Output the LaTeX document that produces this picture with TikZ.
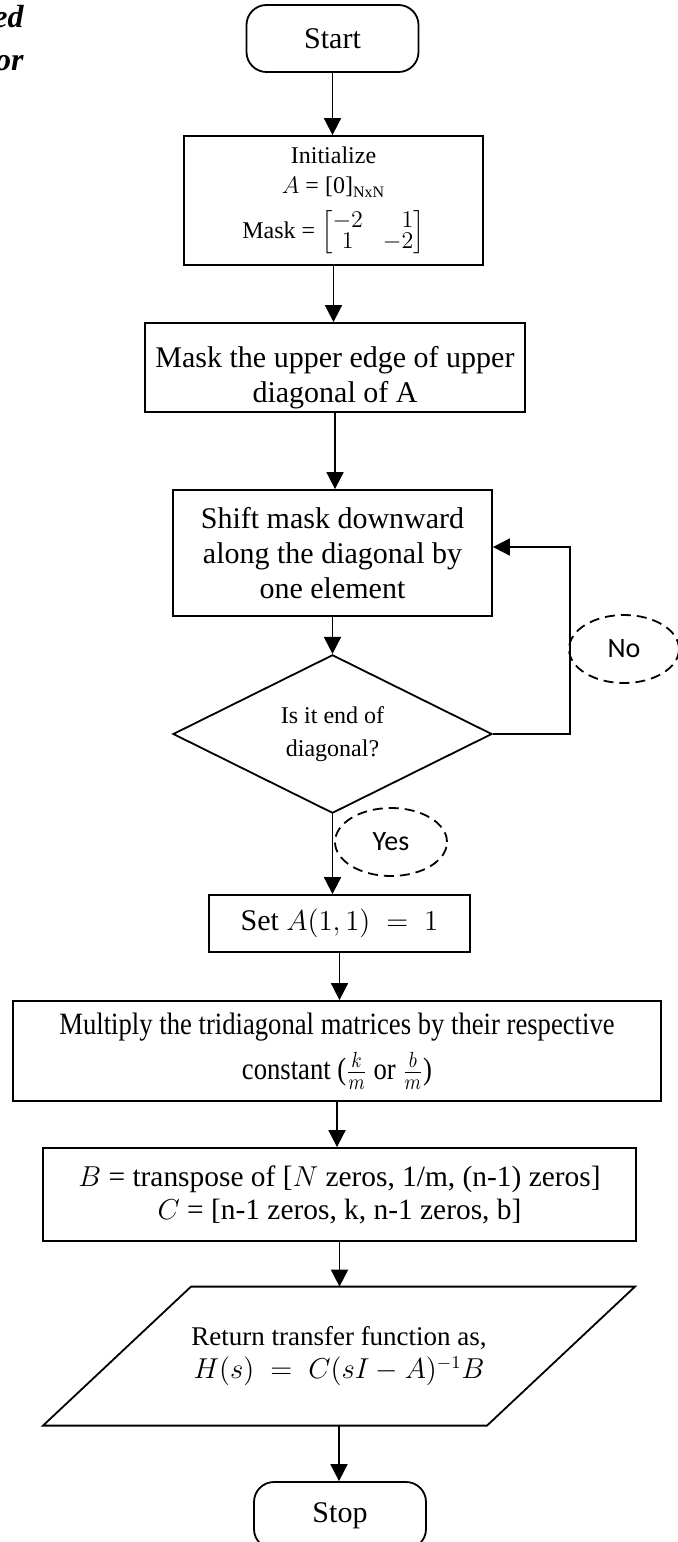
\documentclass[tikz,border=0pt]{standalone}
\usepackage{amsmath}
\usepackage{graphicx}
\usepackage{fontspec}
\setmainfont{Liberation Serif}
\newfontfamily\yesnofont{Carlito}
\usetikzlibrary{shapes.geometric,arrows.meta}

\begin{document}
\begin{tikzpicture}[x=0.5pt,y=-0.5pt,
    box/.style={draw,line width=0.9pt,align=center,inner sep=0pt},
    term/.style={box,rounded corners=10pt,minimum width=86pt,minimum height=33.5pt,
      font=\fontsize{15}{18}\selectfont},
    tag/.style={draw,ellipse,line width=0.9pt,dash pattern=on 5pt off 3pt,inner sep=0pt,
      font=\yesnofont\fontsize{14}{16}\selectfont},
    cut/.style={anchor=base east,inner sep=0pt,font=\bfseries\itshape\fontsize{16}{18}\selectfont},
    arr/.style={line width=0.9pt,-{Triangle[length=8.5pt,width=8.5pt]}}]
  \useasboundingbox (0,0) rectangle (677,1542);
  % caption left over at the edge
  \node[cut] (capa) at (24,27) {ed};
  \node[cut] (capb) at (24,70) {or};
  % steps
  \node[term] (start) at (332.5,38.5) {Start};
  \node[box,minimum width=149.5pt,minimum height=64.5pt,font=\fontsize{12}{15}\selectfont]
    (init) at (333.5,200.5)
    {Initialize\\$A$ = [0]\textsubscript{NxN}\\[6pt]
     Mask = $\renewcommand{\arraystretch}{0.62}\begin{bmatrix}-2&\phantom{-}1\\1&-2\end{bmatrix}$};
  \node[box,minimum width=190pt,minimum height=44.5pt,
    path picture={\node[align=center,font=\fontsize{15}{17.5}\selectfont]
      at ([yshift=-5pt]path picture bounding box.center)
      {Mask the upper edge of upper\\diagonal of A};}]
    (mask) at (335,367.5) {};
  \node[box,minimum width=159.5pt,minimum height=63pt,font=\fontsize{15}{17.5}\selectfont]
    (shift) at (332.5,553) {Shift mask downward\\along the diagonal by\\one element};
  \node[draw,diamond,line width=0.9pt,minimum width=159.5pt,minimum height=74pt,inner sep=0pt,
    align=center,font=\fontsize{12}{16.5}\selectfont]
    (dec) at (332.5,734) {Is it end of\\diagonal?};
  \node[tag,minimum width=55pt,minimum height=34pt] (no) at (624,649) {No};
  \node[tag,minimum width=56pt,minimum height=34pt] (yes) at (391,842) {Yes};
  \node[box,minimum width=130.5pt,minimum height=28.5pt,font=\fontsize{15}{18}\selectfont]
    (set) at (339.5,923.5) {Set $A(1,1)\;=\;1$};
  \node[box,minimum width=324pt,minimum height=50pt,font=\fontsize{15.5}{22.5}\selectfont]
    (mult) at (337,1051)
    {\scalebox{0.86}[1]{Multiply the tridiagonal matrices by their respective}\\
     \scalebox{0.86}[1]{constant ($\frac{k}{m}$ or $\frac{b}{m}$)}};
  \node[box,minimum width=296.5pt,minimum height=46.5pt,font=\fontsize{14.7}{16.5}\selectfont]
    (bc) at (339.5,1194.5)
    {$B$ = transpose of [$N$ zeros, 1/m, (n-1) zeros]\\$C$ = [n-1 zeros, k, n-1 zeros, b]};
  \node[minimum width=222pt,minimum height=69.5pt,inner sep=0pt,align=center,
    font=\fontsize{13.5}{16.5}\selectfont]
    (ret) at (339,1356.5) {Return transfer function as,\\$H(s)\;=\;C(sI-A)^{-1}B$};
  \draw[line width=0.9pt] (ret.north) ++(-148,0) -- ++(444,0) -- ++(-148,139) -- ++(-444,0) -- cycle;
  \node[term] (stop) at (340,1515.5) {Stop};
  % arrows
  \draw[arr] (start.south) -- (start.south |- init.north);
  \draw[arr] (init.south) -- (init.south |- mask.north);
  \draw[arr] (mask.south) -- (mask.south |- shift.north);
  \draw[arr] (shift.south) -- (shift.south |- dec.north);
  \draw[arr] (dec.east) -- ++(77,0) |- ([yshift=3pt]shift.east);
  \draw[arr] (dec.south) -- (dec.south |- set.north);
  \draw[arr] (set.south) -- (set.south |- mult.north);
  \draw[arr] (mult.south) -- (mult.south |- bc.north);
  \draw[arr] (bc.south) -- (bc.south |- ret.north);
  \draw[arr] (ret.south) -- (ret.south |- stop.north);
\end{tikzpicture}
\end{document}
